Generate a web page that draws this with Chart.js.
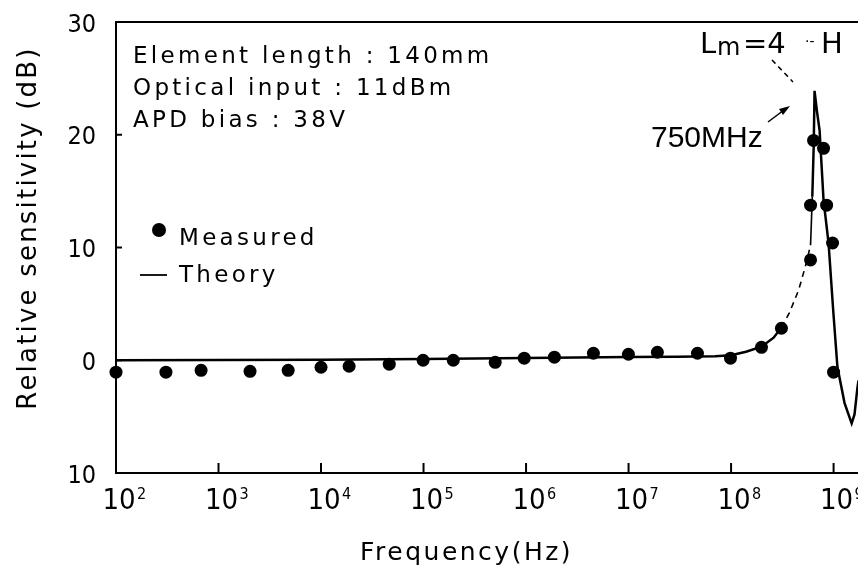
<!DOCTYPE html>
<html><head><meta charset="utf-8">
<script src="https://cdn.jsdelivr.net/npm/chart.js@4"></script>
<style>html,body{margin:0;padding:0;background:#fff;overflow:hidden;}#wrap{width:858px;height:574px;overflow:hidden;}</style>
</head><body><div id="wrap"><canvas id="c" width="865" height="574"></canvas></div>
<script>
const measuredFreq = [100, 307, 676, 2030, 4780, 1.0e4, 1.88e4, 4.63e4, 9.9e4, 1.95e5, 5.0e5, 9.6e5, 1.89e6, 4.54e6, 9.97e6, 1.91e7, 4.7e7, 9.87e7, 1.98e8, 3.1e8, 5.96e8, 5.96e8, 6.38e8, 7.98e8, 8.55e8, 9.77e8, 1.0e9];
const measuredDb = [-1.06, -1.06, -0.89, -0.98, -0.89, -0.62, -0.53, -0.35, 0, 0, -0.18, 0.18, 0.27, 0.62, 0.53, 0.71, 0.62, 0.18, 1.15, 2.84, 8.9, 13.75, 19.5, 18.8, 13.75, 10.4, -1.06];
const theoryFreq = [100, 1e3, 1e4, 1e5, 1e6, 1e7, 3e7, 7e7, 1e8, 1.4e8, 1.98e8, 2.6e8, 3.1e8, 3.7e8, 4.55e8, 5.3e8, 5.96e8, 6.2e8, 6.4e8, 6.52e8, 6.9e8, 7.3e8, 7.98e8, 8.93e8, 9.9e8, 1.09e9, 1.28e9, 1.5e9, 1.6e9, 1.71e9, 1.75e9];
const theoryDb = [0, 0.02, 0.05, 0.1, 0.2, 0.28, 0.3, 0.35, 0.45, 0.75, 1.2, 2.0, 2.9, 4.2, 6.2, 8.3, 10.2, 14.5, 19, 23.9, 22, 20.4, 14.2, 10.4, 4.5, -0.6, -3.8, -5.6, -4.8, -2.4, -1.8];
const xTickExponents = [2, 3, 4, 5, 6, 7, 8, 9];
const yTickValues = [-10, 0, 10, 20, 30];
const yTickLabels = ['10', '0', '10', '20', '30'];
const infoLines = ['Element length : 140mm', 'Optical input : 11dBm', 'APD bias : 38V'];
const legendLabels = ['Measured', 'Theory'];

const NARROW = '"Liberation Sans Narrow", "DejaVu Sans Condensed", "Liberation Sans", sans-serif';
const SANS = '"DejaVu Sans", "Liberation Sans", sans-serif';

function zeroPad(s) { s.paddingTop = 0; s.paddingBottom = 0; s.paddingLeft = 0; s.paddingRight = 0; }

const decor = {
  id: 'decor',
  afterDraw(chart) {
    const ctx = chart.ctx, a = chart.chartArea;
    const xs = chart.scales.x, ys = chart.scales.y;
    ctx.save();
    ctx.strokeStyle = '#000'; ctx.fillStyle = '#000'; ctx.lineWidth = 2;
    ctx.beginPath(); ctx.moveTo(a.left, a.top); ctx.lineTo(a.right, a.top); ctx.stroke();
    yTickValues.forEach(v => {
      if (v <= ys.min || v >= ys.max) return;
      const y = ys.getPixelForValue(v);
      ctx.beginPath(); ctx.moveTo(a.left, y); ctx.lineTo(a.left + 6, y); ctx.stroke();
    });
    xTickExponents.forEach(e => {
      const x = xs.getPixelForValue(Math.pow(10, e));
      if (e > 2) { ctx.beginPath(); ctx.moveTo(x, a.bottom); ctx.lineTo(x, a.bottom - 10); ctx.stroke(); }
      ctx.font = '29px ' + NARROW; ctx.textAlign = 'center'; ctx.textBaseline = 'alphabetic';
      ctx.fillText('10', x + 3, 509);
      ctx.font = '16px ' + NARROW; ctx.textAlign = 'left';
      ctx.fillText(String(e), x + 21, 499);
    });
    ctx.font = '23px ' + SANS; ctx.textAlign = 'left'; ctx.letterSpacing = '3.3px';
    infoLines.forEach((t, i) => ctx.fillText(t, 133, 63 + i * 32));
    ctx.beginPath(); ctx.arc(159, 230, 7, 0, Math.PI * 2); ctx.fill();
    ctx.fillText(legendLabels[0], 179, 245);
    ctx.lineWidth = 1.8;
    ctx.beginPath(); ctx.moveTo(140, 275); ctx.lineTo(167, 275); ctx.stroke();
    ctx.fillText(legendLabels[1], 179, 282);
    ctx.font = '25px ' + SANS; ctx.letterSpacing = '2.5px'; ctx.textAlign = 'left';
    ctx.fillText('Frequency(Hz)', 360, 560);
    ctx.save();
    ctx.translate(36, 228); ctx.rotate(-Math.PI / 2);
    ctx.font = '26px ' + SANS; ctx.letterSpacing = '2.2px'; ctx.textAlign = 'center';
    ctx.fillText('Relative sensitivity (dB)', 0, 0);
    ctx.restore();
    ctx.letterSpacing = '0px';
    ctx.font = '29px ' + SANS; ctx.textAlign = 'left';
    ctx.fillText('L', 700, 53);
    ctx.font = '24px ' + SANS; ctx.fillText('m', 717, 55);
    ctx.font = '29px ' + SANS; ctx.fillText('=4', 743, 53);
    ctx.font = '14px ' + SANS; ctx.fillText('·-', 805, 46);
    ctx.font = '29px ' + SANS; ctx.fillText('H', 821, 53);
    ctx.lineWidth = 1.5; ctx.setLineDash([5, 4]);
    ctx.beginPath(); ctx.moveTo(772, 60); ctx.lineTo(793, 82); ctx.stroke();
    ctx.setLineDash([]);
    ctx.font = '30px "Liberation Sans", Arial, sans-serif';
    ctx.fillText('750MHz', 651, 147);
    ctx.lineWidth = 1.5;
    ctx.beginPath(); ctx.moveTo(768, 122); ctx.lineTo(784, 110); ctx.stroke();
    ctx.beginPath(); ctx.moveTo(790, 106); ctx.lineTo(779, 109); ctx.lineTo(783, 115); ctx.closePath(); ctx.fill();
    ctx.restore();
  }
};

new Chart(document.getElementById('c'), {
  type: 'scatter',
  data: {
    datasets: [
      {
        label: 'Theory',
        data: theoryFreq.map((f, i) => ({ x: f, y: theoryDb[i] })),
        showLine: true, pointRadius: 0, borderColor: '#000', borderWidth: 2.5, tension: 0,
        segment: { borderDash: c => (c.p0.parsed.x >= 3.1e8 && c.p1.parsed.x <= 5.96e8) ? [6, 5] : undefined,
                   borderWidth: c => (c.p0.parsed.x >= 3.1e8 && c.p1.parsed.x <= 6.2e8) ? 1.6 : 2.5 }
      },
      {
        label: 'Measured',
        data: measuredFreq.map((f, i) => ({ x: f, y: measuredDb[i] })),
        showLine: false, pointRadius: 6.5, pointHoverRadius: 6.5,
        backgroundColor: '#000', borderColor: '#000', borderWidth: 0, clip: false
      }
    ]
  },
  options: {
    responsive: false, animation: false, devicePixelRatio: 1,
    layout: { padding: { top: 22, left: 0, right: 0, bottom: 0 } },
    plugins: { legend: { display: false }, tooltip: { enabled: false } },
    scales: {
      x: {
        type: 'logarithmic', min: 100, max: 1.75e9,
        grid: { display: false, drawTicks: false },
        border: { display: true, color: '#000', width: 2 },
        ticks: { display: false },
        afterFit: s => { s.height = 101; zeroPad(s); }
      },
      y: {
        type: 'linear', min: -10, max: 30,
        grid: { display: false, drawTicks: false },
        border: { display: true, color: '#000', width: 2 },
        ticks: { stepSize: 10, padding: 20, labelOffset: 3, color: '#000',
                 font: { family: NARROW, size: 25 },
                 callback: (v, i) => yTickLabels[i] },
        afterFit: s => { s.width = 116; zeroPad(s); }
      }
    }
  },
  plugins: [decor]
});
</script></body></html>
